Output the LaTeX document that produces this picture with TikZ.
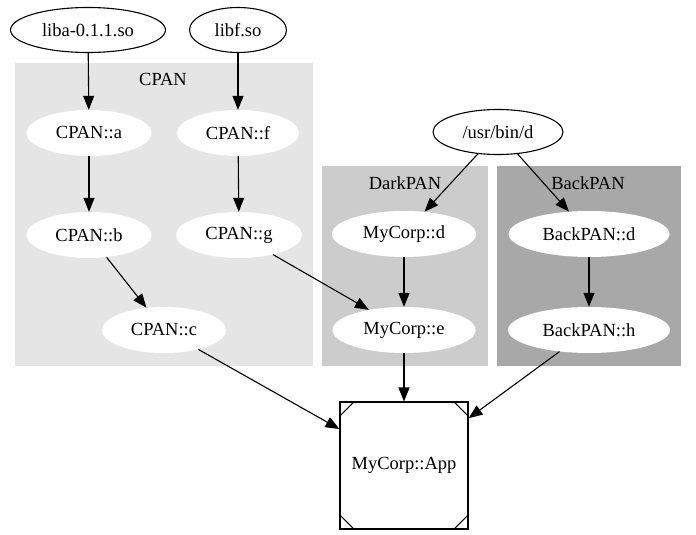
\documentclass[tikz,border=0pt]{standalone}
\usepackage{fontspec}
\setmainfont{Liberation Serif}
\usepackage{tikz}
\usetikzlibrary{arrows.meta, shapes.geometric, calc}

\definecolor{cpangray}{gray}{0.898}
\definecolor{darkgray}{gray}{0.8}
\definecolor{backgray}{gray}{0.659}

\tikzset{
  file/.style={ellipse, draw, line width=1.1pt, fill=white, inner sep=0pt, minimum height=45pt},
  pkg/.style={ellipse, fill=white, inner sep=0pt, minimum height=46pt},
  dep/.style={line width=1.1pt, -{Triangle[length=14pt, width=11pt]}},
  appbox/.style={rectangle, draw, line width=1.1pt, minimum width=128pt, minimum height=127pt}
}

\begin{document}
\begin{tikzpicture}[x=1pt, y=-1pt, font=\fontsize{18.5}{22}\selectfont]
  \useasboundingbox (0,0) rectangle (696,535);

  \fill[cpangray] (15,63) rectangle (313,366);
  \node at (163,79) {CPAN};

  \fill[darkgray] (322,166) rectangle (488,366);
  \node at (405,183) {DarkPAN};

  \fill[backgray] (497,166) rectangle (681,366);
  \node at (588,183) {BackPAN};

  \node[file, minimum width=155pt] (liba) at (88,30) {liba-0.1.1.so};
  \node[file, minimum width=97pt] (libf) at (238,30) {libf.so};
  \node[file, minimum width=130pt] (usrbin) at (498,132) {/usr/bin/d};

  \node[pkg, minimum width=125pt] (cpana) at (89,133) {CPAN::a};
  \node[pkg, minimum width=122pt] (cpanf) at (238,133) {CPAN::f};
  \node[pkg, minimum width=125pt] (cpanb) at (89,235) {CPAN::b};
  \node[pkg, minimum width=126pt] (cpang) at (239,235) {CPAN::g};
  \node[pkg, minimum width=124pt] (cpanc) at (164,330) {CPAN::c};

  \node[pkg, minimum width=144pt] (corpd) at (404,234) {MyCorp::d};
  \node[pkg, minimum width=143pt] (corpe) at (404,330) {MyCorp::e};

  \node[pkg, minimum width=161pt] (backd) at (589,234) {BackPAN::d};
  \node[pkg, minimum width=162pt] (backh) at (589,330) {BackPAN::h};

  \node[appbox] (app) at (404,465.5) {MyCorp::App};
  \draw[line width=1.1pt] ([xshift=15pt]app.north west) -- ([yshift=-15pt]app.north west);
  \draw[line width=1.1pt] ([xshift=-15pt]app.north east) -- ([yshift=-15pt]app.north east);
  \draw[line width=1.1pt] ([xshift=15pt]app.south west) -- ([yshift=15pt]app.south west);
  \draw[line width=1.1pt] ([xshift=-15pt]app.south east) -- ([yshift=15pt]app.south east);

  \draw[dep] (liba) -- (cpana);
  \draw[dep] (libf) -- (cpanf);
  \draw[dep] (cpana) -- (cpanb);
  \draw[dep] (cpanf) -- (cpang);
  \draw[dep] (cpanb) -- (cpanc);
  \draw[dep] (cpang) -- (corpe);
  \draw[dep] (usrbin) -- (corpd);
  \draw[dep] (usrbin) -- (backd);
  \draw[dep] (corpd) -- (corpe);
  \draw[dep] (backd) -- (backh);
  \draw[dep] (cpanc) -- (app);
  \draw[dep] (corpe) -- (app);
  \draw[dep] (backh) -- (app);
\end{tikzpicture}
\end{document}
